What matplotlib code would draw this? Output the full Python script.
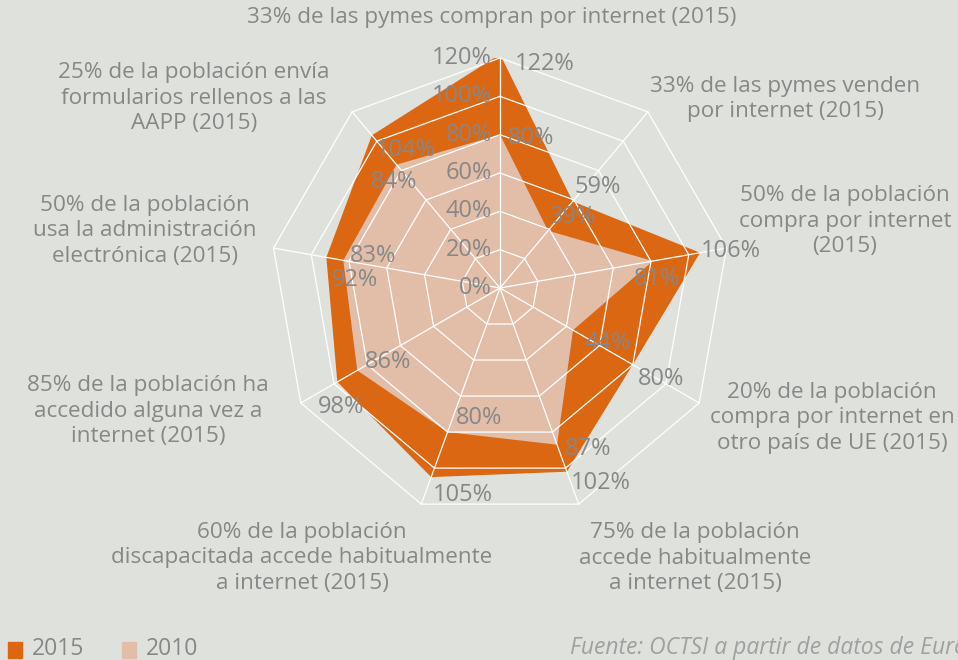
import numpy as np
import matplotlib
matplotlib.use("Agg")
import matplotlib.pyplot as plt

# ---------------- data ----------------
categories = [
    "33% de las pymes compran por internet (2015)",
    "33% de las pymes venden\npor internet (2015)",
    "50% de la población\ncompra por internet\n(2015)",
    "20% de la población\ncompra por internet en\notro país de UE (2015)",
    "75% de la población\naccede habitualmente\na internet (2015)",
    "60% de la población\ndiscapacitada accede habitualmente\na internet (2015)",
    "85% de la población ha\naccedido alguna vez a\ninternet (2015)",
    "50% de la población\nusa la administración\nelectrónica (2015)",
    "25% de la población envía\nformularios rellenos a las\nAAPP (2015)",
]
values_2015 = [122, 59, 106, 80, 102, 105, 98, 92, 104]
values_2010 = [80, 39, 81, 44, 87, 80, 86, 83, 84]
series_names = ["2015", "2010"]
rings = [0, 20, 40, 60, 80, 100, 120]
ring_labels = ["0%", "20%", "40%", "60%", "80%", "100%", "120%"]
source_text = "Fuente: OCTSI a partir de datos de Eurostat"

# ---------------- style / layout ----------------
W, H = 958, 660
BG = "#dfe2dc"
ORANGE = "#dc6713"
LIGHT = "#e2bea9"
GRAY = "#878787"
FONT = ["Open Sans", "DejaVu Sans"]
FS_CAT = 16.2
FS_NUM = 17

# label offsets in pixels (dx right, dy down) relative to data point
off_2015 = [(45, 10), (25, -14), (31, -2), (28, 14), (34, 11), (32, 18), (4, 25), (29, 23), (34, 15)]
off_2010 = [(31, 3), (25, -14), (4, 18), (35, 13), (31, 4), (32, -14), (31, -8), (30, -4), (-2, 17)]
# category label centres in pixels (x, y from top)
cat_pos = [(492, 18), (785, 99), (845, 221), (832, 418), (695, 558),
           (302, 558), (148, 411), (145, 231), (194, 98)]

plt.rcParams["font.family"] = FONT
fig = plt.figure(figsize=(W / 100, H / 100), dpi=100, facecolor=BG)

cx, cy, R = 500, 288, 230
ax = fig.add_axes([(cx - R) / W, (H - cy - R) / H, 2 * R / W, 2 * R / H], projection="polar")
ax.set_theta_zero_location("N")
ax.set_theta_direction(-1)
ax.set_ylim(0, 120)
ax.set_facecolor("none")
ax.grid(False)
ax.spines["polar"].set_visible(False)
ax.set_xticks([])
ax.set_yticks([])

n = len(categories)
theta = np.arange(n) * 2 * np.pi / n
tc = np.append(theta, theta[0])

v15 = np.append(values_2015, values_2015[0])
v10 = np.append(values_2010, values_2010[0])
ax.fill(tc, v15, color=ORANGE, lw=0, zorder=1)
ax.fill(tc, v10, color=LIGHT, lw=0, zorder=2)

# polygon grid
for r in rings[1:]:
    ax.plot(tc, [r] * len(tc), color="white", lw=0.9, zorder=3, clip_on=False)
for t in theta:
    ax.plot([t, t], [0, rings[-1]], color="white", lw=0.9, zorder=3, clip_on=False)

# ring tick labels
for r, lab in zip(rings, ring_labels):
    ax.annotate(lab, xy=(0, r), xytext=(-8, 0), textcoords="offset pixels",
                ha="right", va="center", color=GRAY, fontsize=FS_NUM, zorder=5,
                annotation_clip=False)

# data labels
for vals, offs in ((values_2015, off_2015), (values_2010, off_2010)):
    for t, v, (dx, dy) in zip(theta, vals, offs):
        ax.annotate(f"{v}%", xy=(t, v), xytext=(dx, -dy), textcoords="offset pixels",
                    ha="center", va="center", color=GRAY, fontsize=FS_NUM, zorder=6,
                    annotation_clip=False)

# category labels
for lab, (x, y) in zip(categories, cat_pos):
    fig.text(x / W, 1 - y / H, lab, ha="center", va="center", color=GRAY,
             fontsize=FS_CAT, linespacing=1.3, multialignment="center")

# legend
for i, (name, col) in enumerate(zip(series_names, [ORANGE, LIGHT])):
    x0 = 8 + i * 114
    fig.patches.append(plt.Rectangle((x0 / W, 1 - 658 / H), 14 / W, 16 / H,
                                     transform=fig.transFigure, color=col, figure=fig))
    fig.text((x0 + 24) / W, 1 - 649 / H, name, ha="left", va="center",
             color=GRAY, fontsize=16.5)

fig.text(570 / W, 1 - 648 / H, source_text, ha="left", va="center",
         color="#a0a0a0", fontsize=16.5, style="italic")

fig.savefig("out.png", dpi=100, facecolor=BG)
